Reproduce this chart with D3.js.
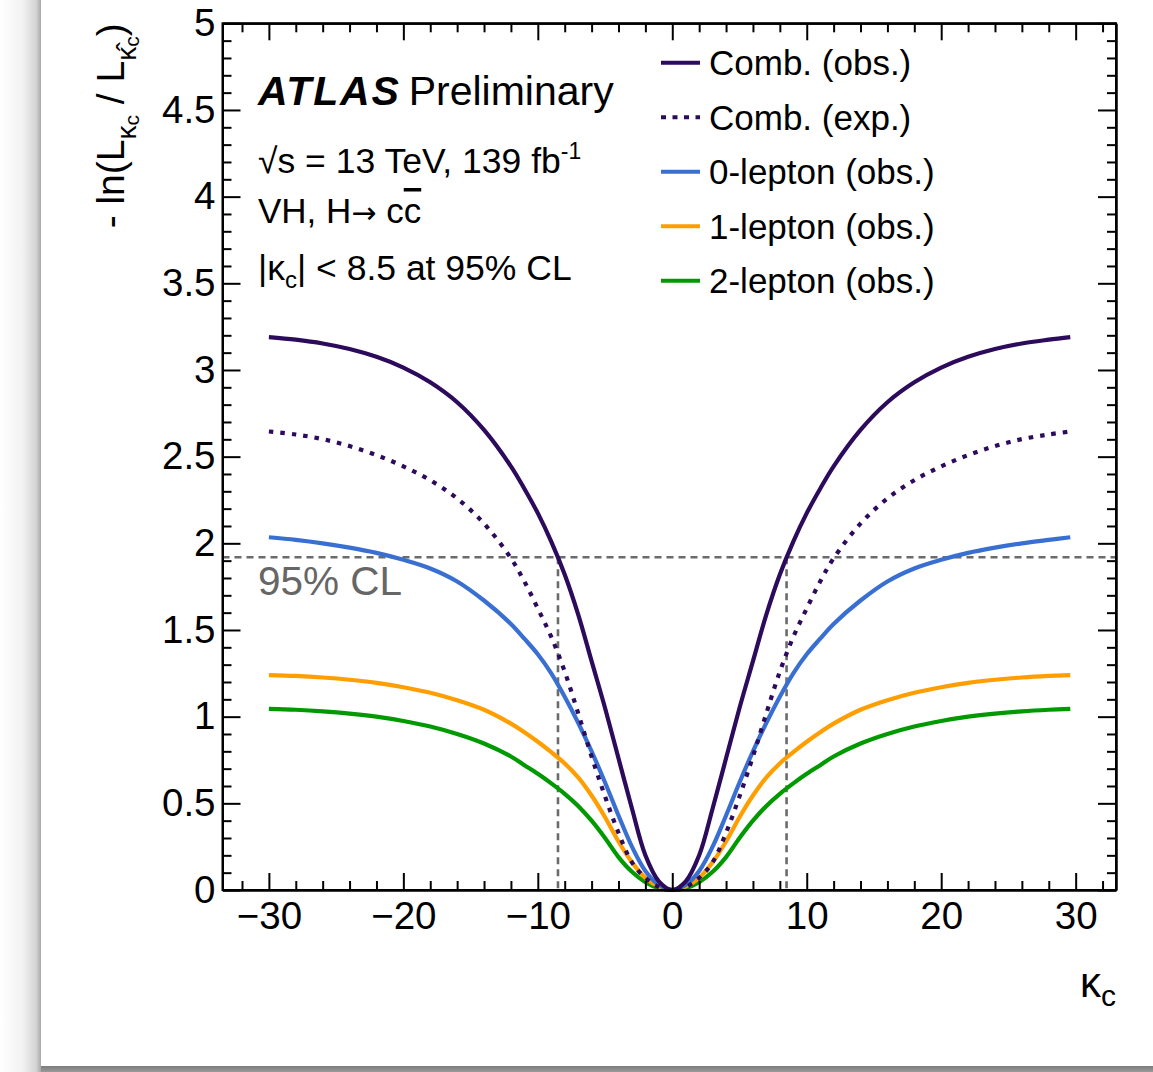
<!doctype html>
<html lang="en">
<head>
<meta charset="utf-8">
<title>kappa_c likelihood scan</title>
<script src="https://cdn.jsdelivr.net/npm/d3@7"></script>
<style>
  body { margin: 0; background: #fff; }
  svg { display: block; }
  text { font-family: "Liberation Sans", Arial, Helvetica, sans-serif; }
</style>
</head>
<body>
<svg></svg>
<script>
// values
var kappa = [-30, -28, -26, -24, -22, -20, -18, -16, -14, -12, -11, -10, -9, -8, -7, -6, -5, -4, -3, -2, -1,
             0, 1, 2, 3, 4, 5, 6, 7, 8, 9, 10, 11, 12, 14, 16, 18, 20, 22, 24, 26, 28, 29.6];
var combObs = [3.19, 3.175, 3.153, 3.121, 3.076, 3.014, 2.929, 2.814, 2.654, 2.444, 2.315, 2.174, 2.01, 1.82, 1.59, 1.32, 1.05, 0.76, 0.47, 0.20, 0.05,
               0, 0.05, 0.20, 0.47, 0.76, 1.05, 1.32, 1.59, 1.82, 2.01, 2.174, 2.315, 2.444, 2.654, 2.814, 2.929, 3.014, 3.076, 3.121, 3.153, 3.175, 3.19];
var combExp = [2.645, 2.628, 2.601, 2.561, 2.509, 2.444, 2.364, 2.259, 2.114, 1.914, 1.78, 1.624, 1.46, 1.26, 1.02, 0.77, 0.54, 0.33, 0.16, 0.07, 0.018,
               0, 0.018, 0.07, 0.16, 0.33, 0.54, 0.77, 1.02, 1.26, 1.46, 1.624, 1.78, 1.914, 2.114, 2.259, 2.364, 2.444, 2.509, 2.561, 2.601, 2.628, 2.645];
var lep0 = [2.035, 2.02, 2.00, 1.975, 1.945, 1.905, 1.855, 1.78, 1.67, 1.535, 1.45, 1.36, 1.25, 1.115, 0.965, 0.80, 0.62, 0.43, 0.25, 0.11, 0.03,
            0, 0.03, 0.11, 0.25, 0.43, 0.62, 0.80, 0.965, 1.115, 1.25, 1.36, 1.45, 1.535, 1.67, 1.78, 1.855, 1.905, 1.945, 1.975, 2.00, 2.02, 2.035];
var lep1 = [1.24, 1.235, 1.226, 1.213, 1.195, 1.17, 1.138, 1.095, 1.04, 0.96, 0.91, 0.855, 0.795, 0.73, 0.65, 0.545, 0.42, 0.28, 0.16, 0.07, 0.02,
            0, 0.02, 0.07, 0.16, 0.28, 0.42, 0.545, 0.65, 0.73, 0.795, 0.855, 0.91, 0.96, 1.04, 1.095, 1.138, 1.17, 1.195, 1.213, 1.226, 1.235, 1.24];
var lep2 = [1.045, 1.04, 1.031, 1.018, 1.00, 0.975, 0.943, 0.90, 0.845, 0.77, 0.72, 0.67, 0.615, 0.555, 0.485, 0.40, 0.30, 0.19, 0.105, 0.045, 0.01,
            0, 0.01, 0.045, 0.105, 0.19, 0.30, 0.40, 0.485, 0.555, 0.615, 0.67, 0.72, 0.77, 0.845, 0.90, 0.943, 0.975, 1.00, 1.018, 1.031, 1.04, 1.045];

var seriesNames = ["Comb. (obs.)", "Comb. (exp.)", "0-lepton (obs.)", "1-lepton (obs.)", "2-lepton (obs.)"];
var seriesColors = ["#2c0a5c", "#2c0a5c", "#3a6fd2", "#ff9e00", "#009a00"];
var seriesValues = [combObs, combExp, lep0, lep1, lep2];

var xMajorTicks = [-30, -20, -10, 0, 10, 20, 30];
var xMinorTicks = [-32, -28, -26, -24, -22, -18, -16, -14, -12, -8, -6, -4, -2, 2, 4, 6, 8, 12, 14, 16, 18, 22, 24, 26, 28, 32];
var yMajorTicks = [0, 0.5, 1, 1.5, 2, 2.5, 3, 3.5, 4, 4.5, 5];
var yMinorTicks = [0.1, 0.2, 0.3, 0.4, 0.6, 0.7, 0.8, 0.9, 1.1, 1.2, 1.3, 1.4, 1.6, 1.7, 1.8, 1.9, 2.1, 2.2, 2.3, 2.4,
                   2.6, 2.7, 2.8, 2.9, 3.1, 3.2, 3.3, 3.4, 3.6, 3.7, 3.8, 3.9, 4.1, 4.2, 4.3, 4.4, 4.6, 4.7, 4.8, 4.9];
var clLevel = 1.92;
var clKappa = [-8.5, 8.5];

var width = 1153, height = 1072;
var padL = 222.5, padR = 1116, padT = 23.3, padB = 890;

var svg = d3.select('svg').attr('width', width).attr('height', height);

// page card + shadow
var defs = svg.append('defs');
var gl = defs.append('linearGradient').attr('id', 'shadowLeft').attr('x1', 0).attr('x2', 1).attr('y1', 0).attr('y2', 0);
gl.append('stop').attr('offset', 0).attr('stop-color', '#ffffff');
gl.append('stop').attr('offset', 0.55).attr('stop-color', '#f2f2f2');
gl.append('stop').attr('offset', 0.88).attr('stop-color', '#d4d4d4');
gl.append('stop').attr('offset', 1).attr('stop-color', '#a9a9a9');
var gb = defs.append('linearGradient').attr('id', 'shadowBottom').attr('x1', 0).attr('x2', 0).attr('y1', 0).attr('y2', 1);
gb.append('stop').attr('offset', 0).attr('stop-color', '#7c7c7c');
gb.append('stop').attr('offset', 1).attr('stop-color', '#9a9a9a');

svg.append('rect').attr('width', width).attr('height', height).attr('fill', '#fff');
svg.append('rect').attr('x', 0).attr('y', 0).attr('width', 41).attr('height', height).attr('fill', 'url(#shadowLeft)');
svg.append('rect').attr('x', 41).attr('y', 1066).attr('width', width - 41).attr('height', 6).attr('fill', 'url(#shadowBottom)');

var x = d3.scaleLinear().domain([-33.45, 33.0]).range([padL, padR]);
var y = d3.scaleLinear().domain([0, 5]).range([padB, padT]);

// 95% CL reference lines
var dashStyle = function (sel) {
    sel.attr('stroke', '#6b6b6b').attr('stroke-width', 2.6).attr('stroke-dasharray', '7,5').attr('fill', 'none');
};
svg.append('line')
    .attr('x1', padL).attr('x2', padR)
    .attr('y1', y(clLevel)).attr('y2', y(clLevel))
    .call(dashStyle);
svg.selectAll('line.clv')
    .data(clKappa)
    .enter()
    .append('line')
    .attr('class', 'clv')
    .attr('x1', function (d) { return x(d); })
    .attr('x2', function (d) { return x(d); })
    .attr('y1', y(clLevel)).attr('y2', padB)
    .call(dashStyle);
svg.append('text')
    .attr('x', 258).attr('y', 595)
    .attr('font-size', 40.5).attr('fill', '#666')
    .text('95% CL');

// curves
var line = d3.line()
    .x(function (d) { return x(d[0]); })
    .y(function (d) { return y(d[1]); })
    .curve(d3.curveCatmullRom.alpha(0.5));

// draw order: sub-channels first, combination on top
[4, 3, 2, 1, 0].forEach(function (i) {
    var pts = kappa.map(function (k, j) { return [k, seriesValues[i][j]]; });
    svg.append('path')
        .datum(pts)
        .attr('d', line)
        .attr('fill', 'none')
        .attr('stroke', seriesColors[i])
        .attr('stroke-width', 4.2)
        .attr('stroke-dasharray', i === 1 ? '4.5,7' : null);
});

// axes (ticks pointing inward)
function styleAxis(g) {
    g.selectAll('path').attr('stroke', '#000').attr('stroke-width', 2);
    g.selectAll('line').attr('stroke', '#000').attr('stroke-width', 2);
    g.selectAll('text').attr('font-family', '"Liberation Sans", Arial, sans-serif').attr('font-size', 38.5).attr('fill', '#000');
}

svg.append('g').attr('transform', 'translate(0,' + padB + ')')
    .call(d3.axisBottom(x).tickValues(xMajorTicks).tickSize(-17).tickSizeOuter(0).tickPadding(12)
        .tickFormat(function (d) { return d < 0 ? '\u2212' + Math.abs(d) : d; }))
    .call(styleAxis);
svg.append('g').attr('transform', 'translate(0,' + padB + ')')
    .call(d3.axisBottom(x).tickValues(xMinorTicks).tickSize(-9).tickSizeOuter(0).tickFormat(''))
    .call(styleAxis);
svg.append('g').attr('transform', 'translate(0,' + padT + ')')
    .call(d3.axisTop(x).tickValues(xMajorTicks).tickSize(-17).tickSizeOuter(0).tickFormat(''))
    .call(styleAxis);
svg.append('g').attr('transform', 'translate(0,' + padT + ')')
    .call(d3.axisTop(x).tickValues(xMinorTicks).tickSize(-9).tickSizeOuter(0).tickFormat(''))
    .call(styleAxis);

svg.append('g').attr('transform', 'translate(' + padL + ',0)')
    .call(d3.axisLeft(y).tickValues(yMajorTicks).tickSize(-18).tickSizeOuter(0).tickPadding(7)
        .tickFormat(function (d) { return String(d); }))
    .call(styleAxis);
svg.append('g').attr('transform', 'translate(' + padL + ',0)')
    .call(d3.axisLeft(y).tickValues(yMinorTicks).tickSize(-9).tickSizeOuter(0).tickFormat(''))
    .call(styleAxis);
svg.append('g').attr('transform', 'translate(' + padR + ',0)')
    .call(d3.axisRight(y).tickValues(yMajorTicks).tickSize(-18).tickSizeOuter(0).tickFormat(''))
    .call(styleAxis);
svg.append('g').attr('transform', 'translate(' + padR + ',0)')
    .call(d3.axisRight(y).tickValues(yMinorTicks).tickSize(-9).tickSizeOuter(0).tickFormat(''))
    .call(styleAxis);

// close the frame
svg.append('rect')
    .attr('x', padL).attr('y', padT)
    .attr('width', padR - padL).attr('height', padB - padT)
    .attr('fill', 'none').attr('stroke', '#000').attr('stroke-width', 2);

// axis titles
var xt = svg.append('text')
    .attr('x', padR).attr('y', 997)
    .attr('text-anchor', 'end')
    .attr('font-family', '"Liberation Serif", "Times New Roman", serif')
    .attr('font-size', 42);
xt.append('tspan').text('\u03ba');
xt.append('tspan').attr('font-family', '"Liberation Sans", Arial, sans-serif')
    .attr('font-size', 30).attr('dy', 9).text('c');

var yt = svg.append('text')
    .attr('transform', 'translate(124,' + padT + ') rotate(-90)')
    .attr('text-anchor', 'end')
    .attr('font-size', 39);
yt.append('tspan').text('- ln(L');
yt.append('tspan').attr('font-size', 28).attr('dy', 12).text('\u03ba');
yt.append('tspan').attr('font-size', 21).attr('dy', 3).text('c');
yt.append('tspan').attr('dy', -15).text(' / L');
yt.append('tspan').attr('font-size', 28).attr('dy', 12).text('\u03ba\u0302');
yt.append('tspan').attr('font-size', 21).attr('dy', 3).text('c');
yt.append('tspan').attr('dy', -15).text(')');

// ATLAS label and info
var atl = svg.append('text').attr('x', 258).attr('y', 105).attr('font-size', 41);
atl.append('tspan').attr('font-weight', 'bold').attr('font-style', 'italic').attr('letter-spacing', 1.8).text('ATLAS');
atl.append('tspan').attr('dx', 8).text('Preliminary');

var t1 = svg.append('text').attr('x', 258).attr('y', 173).attr('font-size', 35.5);
t1.append('tspan').text('\u221As = 13 TeV, 139 fb');
t1.append('tspan').attr('font-size', 23).attr('dy', -14).text('-1');

var t2 = svg.append('text').attr('x', 258).attr('y', 223).attr('font-size', 35);
t2.append('tspan').text('VH, H');
t2.append('tspan').attr('font-family', '"DejaVu Sans", sans-serif').attr('font-size', 30).text('\u2192');
t2.append('tspan').text(' c');
t2.append('tspan').attr('text-decoration', 'overline').text('c');

var t3 = svg.append('text').attr('x', 258).attr('y', 280).attr('font-size', 35.5);
t3.append('tspan').text('|\u03ba');
t3.append('tspan').attr('font-size', 24).attr('dy', 8).text('c');
t3.append('tspan').attr('dy', -8).text('| < 8.5 at 95% CL');

// legend
var legend = svg.selectAll('g.leg')
    .data(seriesNames)
    .enter()
    .append('g')
    .attr('class', 'leg')
    .attr('transform', function (d, i) { return 'translate(661,' + (62.7 + i * 54.5) + ')'; });
legend.append('line')
    .attr('x1', 0).attr('x2', 39).attr('y1', 0).attr('y2', 0)
    .attr('stroke', function (d, i) { return seriesColors[i]; })
    .attr('stroke-width', 4)
    .attr('stroke-dasharray', function (d, i) { return i === 1 ? '5,6.5' : null; });
legend.append('text')
    .attr('x', 48).attr('y', 12.5)
    .attr('font-size', 35)
    .text(function (d) { return d; });
</script>
</body>
</html>
